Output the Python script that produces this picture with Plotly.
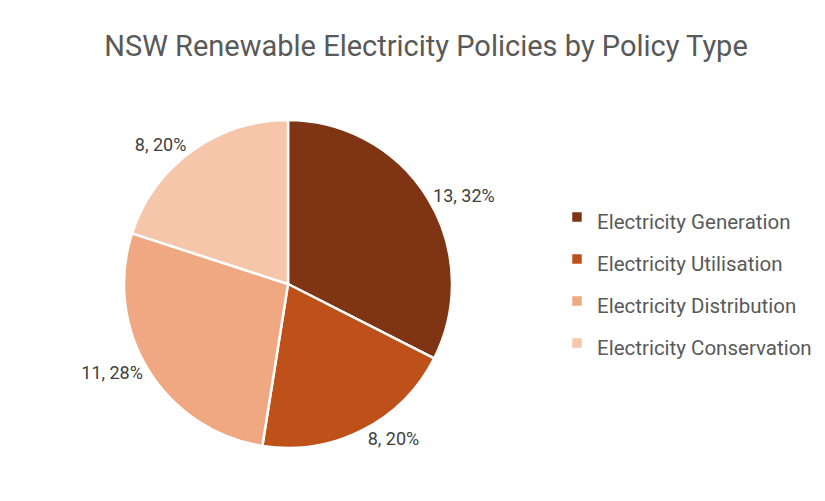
import plotly.graph_objects as go

categories = ["Electricity Generation", "Electricity Utilisation",
              "Electricity Distribution", "Electricity Conservation"]
values = [13, 8, 11, 8]
pct_labels = ["32%", "20%", "28%", "20%"]
colors = ["#7F3414", "#BE501A", "#F0A882", "#F5C6AA"]

W, H = 817, 493          # page body has an 8px margin
OFF = 8
cx, cy, r = 288 - OFF, 284 - OFF, 164

fig = go.Figure(go.Pie(
    labels=[f"<span style='font-size:20.5px'>{c}</span>" for c in categories],
    values=values,
    customdata=pct_labels,
    texttemplate="%{value}, %{customdata}",
    textposition="outside",
    textfont=dict(family="Roboto", size=18, color="#404040"),
    marker=dict(colors=colors, line=dict(color="white", width=2.5)),
    sort=False,
    direction="clockwise",
    rotation=0,
    hole=0,
    domain=dict(x=[(cx - r) / W, (cx + r) / W], y=[(H - cy - r) / H, (H - cy + r) / H]),
    showlegend=True,
))

fig.update_layout(
    width=W, height=H,
    margin=dict(l=0, r=0, t=0, b=0),
    paper_bgcolor="white",
    plot_bgcolor="white",
    title=dict(text="NSW Renewable Electricity Policies by Policy Type",
               x=(426 - OFF) / W, xanchor="center", y=1 - (46 - OFF) / H, yanchor="middle",
               font=dict(family="Roboto", size=29, color="#595959")),
    legend=dict(x=(557 - OFF) / W, xanchor="left", y=1 - (191 - OFF) / H, yanchor="top",
                font=dict(family="Roboto", size=30, color="#595959"),
                bgcolor="rgba(0,0,0,0)"),
)

fig.write_html("out.html")
